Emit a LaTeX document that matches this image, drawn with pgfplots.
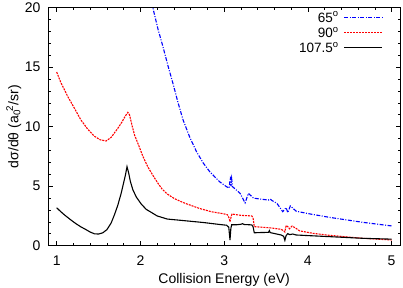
\documentclass[border=0pt]{standalone}
\usepackage{fontspec}
\setmainfont{Liberation Sans}
\usepackage{pgfplots}
\pgfplotsset{compat=1.18}
\begin{document}
\begin{tikzpicture}
\begin{axis}[
  scale only axis, width=351.7pt, height=238pt,
  xmin=0.9, xmax=5.1, ymin=0, ymax=20,
  xtick={1,2,3,4,5}, ytick={0,5,10,15,20},
  minor x tick num=4, minor y tick num=4,
  tick align=inside,
  major tick length=4.5pt, minor tick length=2.5pt,
  every tick/.style={black, line width=0.6pt},
  axis line style={line width=0.8pt},
  /pgf/number format/assume math mode=true,
  tick label style={font=\fontsize{14}{17}\selectfont},
  xticklabel style={yshift=-6.3pt},
  yticklabel style={xshift=-4.3pt},
  legend style={at={(1,1)}, anchor=north east, xshift=-17pt, yshift=-4.6pt,
    draw=none, fill=none, inner sep=0pt, row sep=5.6pt, column sep=5pt,
    font=\fontsize{13.5}{16}\selectfont,
    nodes={inner sep=0pt, text height=9.6pt, text depth=0pt}},
  legend plot pos=right, legend cell align=right,
  legend image code/.code={\draw[#1] (0pt,0pt) -- (38pt,0pt);},
]
\coordinate (sw) at (rel axis cs:0,0);
\coordinate (ne) at (rel axis cs:1,1);
\coordinate (ml) at (rel axis cs:0,0.5);
\coordinate (mb) at (rel axis cs:0.5,0);
\addplot[blue, line width=1.1pt, dash pattern=on 4pt off 1.5pt on 1pt off 1.5pt] coordinates {
(2.14,20.4) (2.15,19.95) (2.21,18.2) (2.27,16.7) (2.33,15.1) (2.39,13.6) (2.45,12.0) (2.51,10.56)
(2.59,9.1) (2.67,7.9) (2.75,6.95) (2.83,6.2) (2.95,5.35) (3.03,4.95) (3.06,4.85)
(3.07,5.5) (3.076,5.8) (3.082,5.0) (3.09,5.6) (3.1,4.96) (3.19,4.4) (3.22,4.0) (3.25,3.6)
(3.29,4.4) (3.35,4.0) (3.45,3.9) (3.53,3.84) (3.55,3.92) (3.57,3.8) (3.63,3.56) (3.70,2.86)
(3.74,3.2) (3.76,2.78) (3.79,3.34) (3.86,2.9) (4.0,2.7) (4.26,2.38) (4.66,1.96) (5.0,1.66)
};
\addlegendentry{65\smash{\textsuperscript{o}}}
\addplot[red, line width=1.1pt, dash pattern=on 2pt off 1pt] coordinates {
(1.00,14.6) (1.05,13.7) (1.135,12.5) (1.20,11.7) (1.29,10.56) (1.37,9.8) (1.45,9.2) (1.52,8.9)
(1.59,8.8) (1.65,9.1) (1.73,9.86) (1.78,10.4) (1.82,10.9) (1.85,11.2) (1.87,11.0) (1.90,10.1)
(1.93,9.3) (1.97,8.6) (2.03,7.5) (2.09,6.6) (2.15,5.9) (2.21,5.24) (2.26,4.75) (2.32,4.35)
(2.40,3.98) (2.48,3.72) (2.55,3.52) (2.71,3.12) (2.85,2.85) (2.98,2.7) (3.04,2.6) (3.06,2.3)
(3.07,2.0) (3.085,2.5) (3.095,2.66) (3.2,2.55) (3.33,2.5) (3.345,2.35) (3.36,1.6) (3.4,1.58)
(3.55,1.5) (3.68,1.38) (3.71,1.25) (3.725,1.15) (3.74,1.7) (3.76,1.6) (3.78,1.42) (3.81,1.65)
(3.85,1.5) (3.9,1.25) (4.06,1.04) (4.26,0.87) (4.66,0.62) (5.0,0.48)
};
\addlegendentry{90\smash{\textsuperscript{o}}}
\addplot[black, line width=1.1pt] coordinates {
(1.00,3.19) (1.05,2.85) (1.10,2.55) (1.17,2.16) (1.23,1.85) (1.29,1.58) (1.35,1.35) (1.40,1.15)
(1.45,1.00) (1.50,0.98) (1.55,1.08) (1.60,1.35) (1.65,1.9) (1.69,2.6) (1.73,3.4) (1.77,4.4)
(1.80,5.3) (1.82,5.9) (1.84,6.64) (1.86,6.1) (1.88,5.4) (1.91,4.7) (1.95,4.1) (2.01,3.5)
(2.07,3.05) (2.13,2.8) (2.20,2.5) (2.32,2.24) (2.50,2.12) (2.75,1.95) (2.95,1.78) (3.03,1.72)
(3.055,1.55) (3.07,0.48) (3.08,1.45) (3.09,1.76) (3.15,1.76) (3.20,1.80) (3.22,1.85) (3.24,1.78)
(3.33,1.75) (3.345,1.6) (3.36,1.08) (3.40,1.10) (3.53,1.12) (3.54,1.27) (3.55,1.10) (3.68,0.90)
(3.71,0.80) (3.725,0.45) (3.74,0.85) (3.76,1.02) (3.78,0.93) (3.82,0.98) (3.86,0.90) (4.0,0.85)
(4.26,0.76) (4.66,0.62) (5.0,0.55)
};
\addlegendentry{107.5\smash{\textsuperscript{o}}}
\end{axis}
\node[rotate=90, anchor=base, font=\fontsize{14}{17}\selectfont] at ([xshift=-30pt]ml) {dσ/dθ (a\textsubscript{0}\kern-0.1em\textsuperscript{2}/sr)};
\node[anchor=base, font=\fontsize{14}{17}\selectfont] at ([yshift=-37.3pt]mb) {Collision Energy (eV)};
\pgfresetboundingbox
\path ([xshift=-48.3pt,yshift=-42.3pt]sw) rectangle ([xshift=3pt,yshift=7.7pt]ne);
\end{tikzpicture}
\end{document}
